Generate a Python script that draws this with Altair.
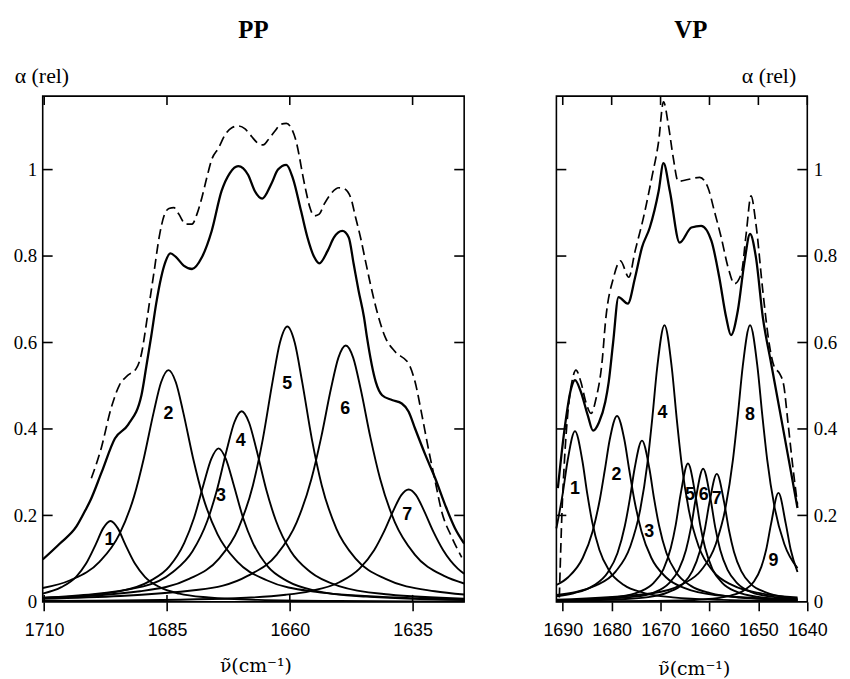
import altair as alt
import pandas as pd

# ---------------- axis ticks / ranges ----------------
PP_X_TICKS = [1710, 1685, 1660, 1635]
VP_X_TICKS = [1690, 1680, 1670, 1660, 1650, 1640]
Y_TICKS = [0, 0.2, 0.4, 0.6, 0.8, 1]
PP_WN_RANGE = [1624.5, 1710.3]
VP_WN_RANGE = [1640.0, 1691.3]
A_RANGE = [0, 1.17]

# ---------------- PP panel: component bands (wavenumber, alpha) ----------------
PP_PEAK_1 = [(1710.3, 0.019), (1706.5, 0.034), (1703.5, 0.058), (1701.5, 0.088), (1699.5, 0.133),
             (1698.0, 0.170), (1696.5, 0.187), (1695.0, 0.170), (1693.5, 0.133), (1691.5, 0.088),
             (1689.5, 0.058), (1686.5, 0.034), (1682.5, 0.019), (1676.5, 0.010), (1666.5, 0.0045),
             (1650.0, 0.002), (1624.5, 0.001)]
PP_PEAK_2 = [(1710.3, 0.032), (1704.7, 0.050), (1698.7, 0.093), (1694.7, 0.156), (1691.7, 0.244),
             (1689.7, 0.333), (1687.7, 0.439), (1686.2, 0.508), (1684.7, 0.536), (1683.2, 0.508),
             (1681.7, 0.439), (1679.7, 0.333), (1677.7, 0.244), (1674.7, 0.156), (1670.7, 0.093),
             (1664.7, 0.050), (1654.7, 0.023), (1640.0, 0.011), (1624.5, 0.006)]
PP_PEAK_3 = [(1710.3, 0.008), (1694.5, 0.025), (1688.5, 0.048), (1684.5, 0.082), (1681.5, 0.136),
             (1679.5, 0.194), (1677.5, 0.274), (1676.0, 0.330), (1674.5, 0.355), (1673.0, 0.330),
             (1671.5, 0.274), (1669.5, 0.194), (1667.5, 0.136), (1664.5, 0.082), (1660.5, 0.048),
             (1654.5, 0.025), (1644.5, 0.012), (1624.5, 0.004)]
PP_PEAK_4 = [(1710.3, 0.0095), (1689.8, 0.036), (1683.8, 0.069), (1679.8, 0.117), (1676.8, 0.187),
             (1674.8, 0.260), (1672.8, 0.353), (1671.3, 0.415), (1669.8, 0.441), (1668.3, 0.415),
             (1666.8, 0.353), (1664.8, 0.260), (1662.8, 0.187), (1659.8, 0.117), (1655.8, 0.069),
             (1649.8, 0.036), (1639.8, 0.017), (1624.5, 0.0076)]
PP_PEAK_5 = [(1710.3, 0.009), (1690.5, 0.0245), (1680.5, 0.053), (1674.5, 0.099), (1670.5, 0.169),
             (1667.5, 0.270), (1665.5, 0.376), (1663.5, 0.510), (1662.0, 0.600), (1660.5, 0.637),
             (1659.0, 0.600), (1657.5, 0.510), (1655.5, 0.376), (1653.5, 0.270), (1650.5, 0.169),
             (1646.5, 0.099), (1640.5, 0.053), (1630.5, 0.0245), (1624.5, 0.017)]
PP_PEAK_6 = [(1710.3, 0.007), (1678.6, 0.028), (1668.6, 0.060), (1662.6, 0.110), (1658.6, 0.184),
             (1655.6, 0.284), (1653.6, 0.381), (1651.6, 0.494), (1650.1, 0.565), (1648.6, 0.593),
             (1647.1, 0.565), (1645.6, 0.494), (1643.6, 0.381), (1641.6, 0.284), (1638.6, 0.184),
             (1634.6, 0.110), (1628.6, 0.060), (1624.5, 0.0425)]
PP_PEAK_7 = [(1710.3, 0.002), (1675.8, 0.0067), (1660.8, 0.0165), (1655.8, 0.025), (1649.8, 0.046),
             (1645.8, 0.077), (1642.8, 0.120), (1640.8, 0.163), (1638.8, 0.214), (1637.3, 0.247),
             (1635.8, 0.260), (1634.3, 0.247), (1632.8, 0.214), (1630.8, 0.163), (1628.8, 0.120),
             (1625.8, 0.077), (1624.5, 0.065)]

# PP: sum of the bands (solid) and measured spectrum (dashed)
PP_SUM = [(1710.3, 0.098), (1706.8, 0.135), (1703.4, 0.175), (1701.7, 0.21), (1700.7, 0.232),
          (1698.3, 0.30), (1695.6, 0.378), (1692.9, 0.41), (1690.2, 0.478), (1689.2, 0.545),
          (1688.2, 0.615), (1687.2, 0.69), (1686.2, 0.75), (1685.3, 0.787), (1684.3, 0.806),
          (1683.2, 0.798), (1681.6, 0.778), (1679.9, 0.770), (1677.9, 0.797), (1675.9, 0.858),
          (1673.9, 0.950), (1672.2, 0.992), (1670.5, 1.008), (1668.5, 0.988), (1667.1, 0.950),
          (1665.6, 0.933), (1663.8, 0.966), (1662.4, 1.000), (1660.7, 1.011), (1659.4, 0.981),
          (1657.7, 0.904), (1656.4, 0.843), (1655.0, 0.797), (1654.0, 0.783), (1652.3, 0.812),
          (1651.0, 0.843), (1649.3, 0.858), (1648.0, 0.843), (1647.0, 0.782), (1646.0, 0.72),
          (1644.9, 0.659), (1644.3, 0.613), (1642.5, 0.509), (1641.2, 0.478), (1639.2, 0.467),
          (1637.2, 0.459), (1635.8, 0.44), (1634.5, 0.401), (1632.4, 0.340), (1630.4, 0.286),
          (1628.4, 0.225), (1626.4, 0.171), (1624.5, 0.135)]
PP_MEAS = [(1700.4, 0.286), (1698.4, 0.355), (1696.4, 0.447), (1694.7, 0.501), (1693.0, 0.524),
           (1691.3, 0.539), (1690.0, 0.585), (1689.6, 0.613), (1688.6, 0.690), (1687.6, 0.766),
           (1686.6, 0.843), (1685.6, 0.893), (1684.6, 0.910), (1683.6, 0.912), (1682.6, 0.897),
           (1681.2, 0.874), (1679.9, 0.874), (1678.9, 0.897), (1677.9, 0.935), (1676.9, 0.981),
           (1675.9, 1.023), (1674.5, 1.050), (1673.2, 1.080), (1671.8, 1.097), (1670.5, 1.101),
           (1669.1, 1.094), (1667.8, 1.077), (1666.5, 1.061), (1665.4, 1.057), (1664.4, 1.069),
           (1663.1, 1.088), (1661.8, 1.105), (1660.7, 1.107), (1659.7, 1.096), (1658.7, 1.065),
           (1658.0, 1.027), (1657.4, 0.989), (1656.7, 0.950), (1656.0, 0.916), (1655.0, 0.893),
           (1654.0, 0.897), (1653.0, 0.920), (1651.7, 0.943), (1650.0, 0.958), (1649.0, 0.956),
           (1647.6, 0.935), (1646.6, 0.889), (1645.6, 0.843), (1644.6, 0.789), (1643.6, 0.736),
           (1642.3, 0.674), (1640.6, 0.613), (1638.5, 0.578), (1635.8, 0.551), (1634.5, 0.509),
           (1633.1, 0.432), (1631.8, 0.355), (1630.4, 0.279), (1629.1, 0.21), (1627.0, 0.149),
           (1625.0, 0.103)]

PP_LABEL_TEXT = ["1", "2", "3", "4", "5", "6", "7"]
PP_LABEL_WN = [1696.7, 1684.7, 1674.0, 1670.0, 1660.5, 1648.7, 1636.1]
PP_LABEL_A = [0.143, 0.434, 0.244, 0.373, 0.505, 0.447, 0.202]

# ---------------- VP panel ----------------
VP_PEAK_1 = [(1691.3, 0.170), (1690.0, 0.251), (1689.0, 0.327), (1687.5, 0.395), (1686.0, 0.327),
             (1685.0, 0.251), (1684.0, 0.186), (1682.5, 0.120), (1680.5, 0.072), (1677.5, 0.039),
             (1673.5, 0.021), (1667.5, 0.0105), (1657.5, 0.0047), (1642.0, 0.0021)]
VP_PEAK_2 = [(1691.3, 0.039), (1688.9, 0.057), (1685.9, 0.102), (1683.9, 0.163), (1682.4, 0.238),
             (1681.4, 0.305), (1680.4, 0.375), (1678.9, 0.430), (1677.4, 0.375), (1676.4, 0.305),
             (1675.4, 0.238), (1673.9, 0.163), (1671.9, 0.102), (1668.9, 0.057), (1664.9, 0.031),
             (1658.9, 0.016), (1642.0, 0.005)]
VP_PEAK_3 = [(1691.3, 0.013), (1687.8, 0.020), (1683.8, 0.037), (1680.8, 0.068), (1678.8, 0.113),
             (1677.3, 0.176), (1676.3, 0.237), (1675.3, 0.309), (1673.8, 0.373), (1672.3, 0.309),
             (1671.3, 0.237), (1670.3, 0.176), (1668.8, 0.113), (1666.8, 0.068), (1663.8, 0.037),
             (1659.8, 0.020), (1653.8, 0.010), (1642.0, 0.004)]
VP_PEAK_4 = [(1691.3, 0.016), (1683.2, 0.038), (1679.2, 0.070), (1676.2, 0.128), (1674.2, 0.211),
             (1672.7, 0.320), (1671.7, 0.424), (1670.7, 0.541), (1669.2, 0.640), (1667.7, 0.541),
             (1666.7, 0.424), (1665.7, 0.320), (1664.2, 0.211), (1662.2, 0.128), (1659.2, 0.070),
             (1655.2, 0.038), (1649.2, 0.019), (1642.0, 0.010)]
VP_PEAK_5 = [(1691.3, 0.003), (1678.4, 0.012), (1674.4, 0.023), (1671.4, 0.044), (1669.4, 0.076),
             (1667.9, 0.125), (1666.9, 0.178), (1665.9, 0.249), (1664.4, 0.320), (1662.9, 0.249),
             (1661.9, 0.178), (1660.9, 0.125), (1659.4, 0.076), (1657.4, 0.044), (1654.4, 0.023),
             (1650.4, 0.012), (1642.0, 0.005)]
VP_PEAK_6 = [(1691.3, 0.003), (1675.3, 0.012), (1671.3, 0.022), (1668.3, 0.043), (1666.3, 0.074),
             (1664.8, 0.120), (1663.8, 0.171), (1662.8, 0.239), (1661.3, 0.308), (1659.8, 0.239),
             (1658.8, 0.171), (1657.8, 0.120), (1656.3, 0.074), (1654.3, 0.043), (1651.3, 0.022),
             (1647.3, 0.012), (1642.0, 0.006)]
VP_PEAK_7 = [(1691.3, 0.002), (1678.5, 0.006), (1672.5, 0.011), (1668.5, 0.022), (1665.5, 0.041),
             (1663.5, 0.071), (1662.0, 0.116), (1661.0, 0.165), (1660.0, 0.230), (1658.5, 0.296),
             (1657.0, 0.230), (1656.0, 0.165), (1655.0, 0.116), (1653.5, 0.071), (1651.5, 0.041),
             (1648.5, 0.022), (1644.5, 0.011), (1642.0, 0.008)]
VP_PEAK_8 = [(1691.3, 0.005), (1671.7, 0.020), (1665.7, 0.040), (1661.7, 0.073), (1658.7, 0.134),
             (1656.7, 0.219), (1655.2, 0.329), (1654.2, 0.432), (1653.2, 0.545), (1651.7, 0.640),
             (1650.2, 0.545), (1649.2, 0.432), (1648.2, 0.329), (1646.7, 0.219), (1644.7, 0.134),
             (1642.0, 0.078)]
VP_PEAK_9 = [(1691.3, 0.001), (1670.9, 0.002), (1660.9, 0.006), (1655.9, 0.014), (1652.9, 0.027),
             (1650.9, 0.047), (1649.4, 0.081), (1648.4, 0.121), (1647.4, 0.181), (1645.9, 0.252),
             (1644.4, 0.181), (1643.4, 0.121), (1642.0, 0.069)]

VP_SUM = [(1691.0, 0.263), (1689.7, 0.394), (1688.3, 0.493), (1687.5, 0.513), (1686.3, 0.486),
          (1684.9, 0.432), (1683.8, 0.396), (1682.6, 0.415), (1681.3, 0.463), (1680.6, 0.509),
          (1679.7, 0.600), (1678.6, 0.705), (1676.7, 0.690), (1675.2, 0.751), (1673.8, 0.820),
          (1672.2, 0.866), (1670.4, 0.950), (1669.4, 1.015), (1668.1, 0.950), (1666.1, 0.831),
          (1663.7, 0.866), (1661.7, 0.870), (1659.6, 0.835), (1658.0, 0.751), (1656.6, 0.659),
          (1655.6, 0.617), (1654.2, 0.674), (1652.9, 0.782), (1651.7, 0.851), (1650.5, 0.797),
          (1649.1, 0.659), (1647.4, 0.552), (1645.7, 0.447), (1643.6, 0.317), (1642.0, 0.217)]
VP_MEAS = [(1690.7, 0.010), (1690.5, 0.088), (1690.2, 0.195), (1689.7, 0.317), (1689.0, 0.432),
           (1688.0, 0.516), (1687.3, 0.536), (1686.3, 0.509), (1685.3, 0.463), (1684.2, 0.436),
           (1683.2, 0.470), (1681.9, 0.562), (1681.3, 0.644), (1679.6, 0.751), (1678.2, 0.789),
           (1676.5, 0.751), (1675.2, 0.812), (1673.5, 0.889), (1671.8, 0.981), (1670.4, 1.065),
           (1669.4, 1.157), (1668.4, 1.103), (1667.4, 1.027), (1666.4, 0.973), (1664.4, 0.977),
           (1662.0, 0.982), (1660.3, 0.958), (1659.0, 0.904), (1657.6, 0.843), (1656.2, 0.774),
           (1654.9, 0.736), (1653.5, 0.759), (1652.5, 0.851), (1651.5, 0.939), (1650.5, 0.874),
           (1649.1, 0.720), (1647.8, 0.598), (1646.8, 0.545), (1645.6, 0.527), (1644.8, 0.500),
           (1644.0, 0.420), (1643.0, 0.317), (1642.0, 0.225)]

VP_LABEL_TEXT = ["1", "2", "3", "4", "5", "6", "7", "8", "9"]
VP_LABEL_WN = [1687.5, 1679.0, 1672.3, 1669.6, 1664.0, 1661.2, 1658.5, 1651.7, 1646.9]
VP_LABEL_A = [0.262, 0.294, 0.162, 0.436, 0.248, 0.248, 0.237, 0.432, 0.095]

PP_BANDS = [("1", PP_PEAK_1), ("2", PP_PEAK_2), ("3", PP_PEAK_3), ("4", PP_PEAK_4),
            ("5", PP_PEAK_5), ("6", PP_PEAK_6), ("7", PP_PEAK_7)]
VP_BANDS = [("1", VP_PEAK_1), ("2", VP_PEAK_2), ("3", VP_PEAK_3), ("4", VP_PEAK_4),
            ("5", VP_PEAK_5), ("6", VP_PEAK_6), ("7", VP_PEAK_7), ("8", VP_PEAK_8),
            ("9", VP_PEAK_9)]

SERIF = "Liberation Serif"
SANS = "Liberation Sans"
PLOT_H = 510
TICK_W = 1.6


def bands_frame(bands):
    rows = []
    for name, pts in bands:
        for wn, a in pts:
            rows.append({"wn": wn, "a": a, "band": name})
    return pd.DataFrame(rows)


def x_tick_rules(values, xs, y_from, y_to):
    return alt.Chart(pd.DataFrame({"wn": values})).mark_rule(
        color="black", strokeWidth=TICK_W, orient="vertical").encode(
        x=alt.X("wn:Q", scale=xs, axis=None), y=alt.value(y_from), y2=alt.value(y_to))


def y_tick_rules(values, ys, x_from, x_to):
    return alt.Chart(pd.DataFrame({"a": values})).mark_rule(
        color="black", strokeWidth=TICK_W, orient="horizontal").encode(
        y=alt.Y("a:Q", scale=ys, axis=None), x=alt.value(x_from), x2=alt.value(x_to))


def panel(name, bands, total, measured, lab_text, lab_wn, lab_a, x_ticks, wn_range,
          side, width, title_dx, xtitle_dx, xtitle_y, bottom_inner):
    xs = alt.Scale(domain=wn_range, reverse=True, nice=False, zero=False)
    ys = alt.Scale(domain=A_RANGE, nice=False, zero=False)

    x_main = alt.Axis(orient="bottom", values=x_ticks, format="d", labelFlush=False,
                      labelOverlap=False, labelFont=SANS, labelFontSize=18, labelColor="black",
                      labelPadding=11, tickSize=9, tickWidth=TICK_W, tickColor="black",
                      domain=False, grid=False, title="ν̃(cm⁻¹)", titleFont="DejaVu Serif",
                      titleFontSize=19, titleFontWeight="normal", titleColor="black",
                      titleX=width / 2 + xtitle_dx, titleY=xtitle_y, titleAlign="center",
                      titleBaseline="alphabetic")
    y_main = alt.Axis(orient=side, values=Y_TICKS, format="~g", ticks=False, domain=False,
                      grid=False, labelFont=SERIF, labelFontSize=19, labelColor="black",
                      labelPadding=6, title="α (rel)", titleAngle=0,
                      titleX=(-28.7 if side == "left" else -11.7), titleY=-14,
                      titleAlign=("left" if side == "left" else "right"),
                      titleBaseline="alphabetic", titleFont=SERIF, titleFontSize=22,
                      titleFontWeight="normal", titleColor="black")

    band_layer = alt.Chart(bands_frame(bands)).mark_line(
        color="black", strokeWidth=1.9, interpolate="monotone").encode(
        x=alt.X("wn:Q", scale=xs, axis=x_main),
        y=alt.Y("a:Q", scale=ys, axis=y_main),
        detail="band:N")

    sum_layer = alt.Chart(pd.DataFrame(total, columns=["wn", "a"])).mark_line(
        color="black", strokeWidth=2.3, interpolate="monotone").encode(
        x=alt.X("wn:Q", scale=xs, axis=None),
        y=alt.Y("a:Q", scale=ys, axis=None))

    meas_layer = alt.Chart(pd.DataFrame(measured, columns=["wn", "a"])).mark_line(
        color="black", strokeWidth=1.7, strokeDash=[10, 5], interpolate="monotone").encode(
        x=alt.X("wn:Q", scale=xs, axis=None),
        y=alt.Y("a:Q", scale=ys, axis=None))

    lab_df = pd.DataFrame({"wn": lab_wn, "a": lab_a, "t": lab_text})
    lab_layer = alt.Chart(lab_df).mark_text(
        font=SANS, fontWeight="bold", fontSize=18, color="black",
        baseline="middle", align="center").encode(
        x=alt.X("wn:Q", scale=xs, axis=None),
        y=alt.Y("a:Q", scale=ys, axis=None),
        text="t:N")

    # inward ticks on the frame
    ticks = [
        x_tick_rules(x_ticks, xs, 0, 9),
        y_tick_rules(Y_TICKS[1:], ys, 0, 10),
        y_tick_rules(Y_TICKS[1:], ys, width - 10, width),
    ]
    if bottom_inner:
        ticks.append(x_tick_rules(x_ticks, xs, PLOT_H - 7, PLOT_H))

    return alt.layer(band_layer, sum_layer, meas_layer, lab_layer, *ticks).resolve_axis(
        x="independent", y="independent").properties(
        width=width, height=PLOT_H,
        title=alt.TitleParams(name, font=SERIF, fontSize=25, fontWeight="bold",
                              color="black", anchor="middle", frame="group",
                              offset=22, dx=title_dx))


left = panel("PP", PP_BANDS, PP_SUM, PP_MEAS, PP_LABEL_TEXT, PP_LABEL_WN, PP_LABEL_A,
             PP_X_TICKS, PP_WN_RANGE, "left", 425, 0, 2, 70, True)
right = panel("VP", VP_BANDS, VP_SUM, VP_MEAS, VP_LABEL_TEXT, VP_LABEL_WN, VP_LABEL_A,
              VP_X_TICKS, VP_WN_RANGE, "right", 253, 9, 12, 73, False)

chart = alt.hconcat(left, right, spacing=72).properties(
    padding={"left": 4, "top": 6, "right": 4, "bottom": 4},
    background="white",
).configure_view(stroke="black", strokeWidth=1.6)

chart.save("out.html", embed_options={"renderer": "svg", "actions": False})
